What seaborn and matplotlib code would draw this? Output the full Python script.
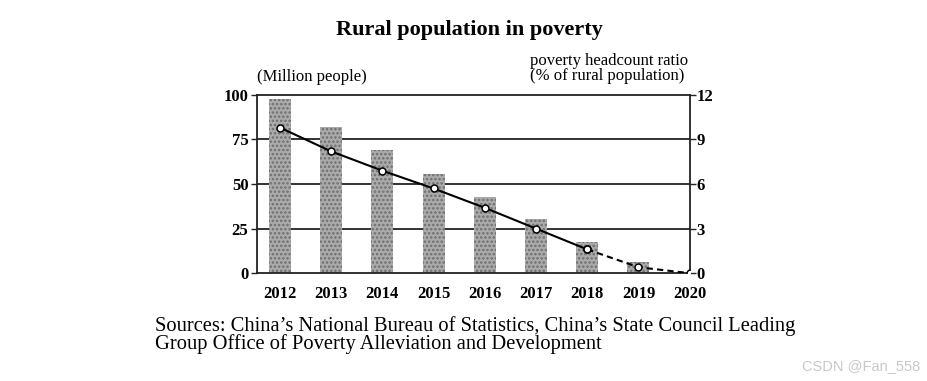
import numpy as np
import pandas as pd
import matplotlib.pyplot as plt
import seaborn as sns

years = ["2012", "2013", "2014", "2015", "2016", "2017", "2018", "2019", "2020"]
poor_million = [97.5, 82.0, 69.0, 55.5, 43.0, 30.5, 17.5, 6.0]
ratio_pct = [9.8, 8.2, 6.9, 5.7, 4.4, 3.0, 1.6, 0.4, 0.0]
left_ticks = [0, 25, 50, 75, 100]
right_ticks = [0, 3, 6, 9, 12]

sns.set_theme(style="white")
plt.rcParams["font.family"] = ["Liberation Serif", "DejaVu Serif"]
plt.rcParams["text.color"] = "black"
plt.rcParams["hatch.linewidth"] = 1.2
plt.rcParams["hatch.color"] = "#707070"

fig = plt.figure(figsize=(9.27, 3.81), dpi=100)
ax = fig.add_axes([0.277, 0.283, 0.467, 0.468])

bars_df = pd.DataFrame({"year": years[:8], "poor": poor_million})
sns.barplot(data=bars_df, x="year", y="poor", order=years, ax=ax,
            color="#ababab", width=0.43, saturation=1)
for p in ax.patches:
    p.set_hatch("....")
    p.set_edgecolor("#6e6e6e")
    p.set_linewidth(0)

ax.set_xlim(-0.45, 8.0)
ax.set_ylim(0, 100)
ax.set_yticks(left_ticks)
for y in [25, 50, 75]:
    ax.axhline(y, color="#222222", lw=1.3, zorder=0.5)
ax.set_xlabel("")
ax.set_ylabel("")
for s in ax.spines.values():
    s.set_color("#222222")
    s.set_linewidth(1.3)
ax.tick_params(axis="y", left=True, length=4, width=1.0, color="#222222",
               labelsize=12, pad=2, labelcolor="black")
ax.tick_params(axis="x", bottom=False, labelsize=12, pad=3, labelcolor="black")
for t in ax.get_xticklabels() + ax.get_yticklabels():
    t.set_fontweight("bold")

ax2 = ax.twinx()
line_df = pd.DataFrame({"pos": np.arange(len(years)), "ratio": ratio_pct})
solid = line_df.iloc[:7]
dashed = line_df.iloc[6:]
sns.lineplot(data=solid, x="pos", y="ratio", ax=ax2, color="black", lw=1.5,
             marker="o", markersize=5, markerfacecolor="white",
             markeredgecolor="black", markeredgewidth=1.1)
sns.lineplot(data=dashed, x="pos", y="ratio", ax=ax2, color="black", lw=1.5,
             linestyle=(0, (3, 2)), marker="o", markersize=5,
             markerfacecolor="white", markeredgecolor="black",
             markeredgewidth=1.1)
ax2.set_ylim(0, 12)
ax2.set_yticks(right_ticks)
ax2.set_xlim(-0.45, 8.0)
ax2.set_xlabel("")
ax2.set_ylabel("")
ax2.tick_params(axis="y", right=True, length=4, width=1.0, color="#222222",
                labelsize=12, pad=1, labelcolor="black")
for t in ax2.get_yticklabels():
    t.set_fontweight("bold")
for s in ax2.spines.values():
    s.set_visible(False)

fig.text(0.506, 0.92, "Rural population in poverty", ha="center", va="center",
         fontsize=16, fontweight="bold")
fig.text(0.277, 0.797, "(Million people)", ha="left", va="center", fontsize=12)
fig.text(0.572, 0.82, "poverty headcount ratio\n(% of rural population)",
         ha="left", va="center", fontsize=12, linespacing=0.95)
fig.text(0.167, 0.12,
         "Sources: China\u2019s National Bureau of Statistics, China\u2019s State Council Leading\n"
         "Group Office of Poverty Alleviation and Development",
         ha="left", va="center", fontsize=14.75, linespacing=0.88)
fig.text(0.993, 0.04, "CSDN @Fan_558", ha="right", va="center", fontsize=10.5,
         color="#c8c8c8", family=["Liberation Sans", "DejaVu Sans"])

fig.savefig("out.png", dpi=100)
